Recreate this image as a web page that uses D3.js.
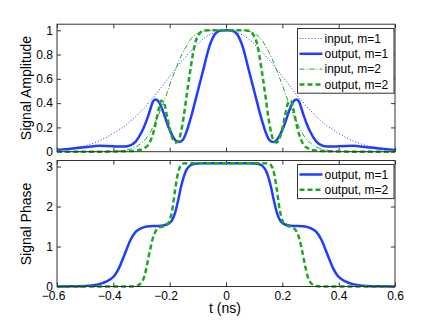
<!DOCTYPE html>
<meta charset="utf-8">
<style>
body { margin: 0; background: #fff; }
svg { display: block; font-family: "Liberation Sans", Arial, sans-serif; }
</style>
<svg width="436" height="323"></svg>
<script src="https://d3js.org/d3.v7.min.js"></script>
<script>
// time axis samples (ns), denser around the features
var tNs = [-0.6,-0.55,-0.5,-0.45,-0.4,-0.38,-0.36,-0.34,-0.32,-0.3,-0.29,-0.28,-0.27,-0.26,-0.25,-0.24,-0.23,-0.22,-0.21,-0.2,-0.19,-0.18,-0.17,-0.16,-0.15,-0.14,-0.13,-0.12,-0.11,-0.1,-0.09,-0.08,-0.06,-0.04,-0.02,0,
  0.02,0.04,0.06,0.08,0.09,0.1,0.11,0.12,0.13,0.14,0.15,0.16,0.17,0.18,0.19,0.2,0.21,0.22,0.23,0.24,0.25,0.26,0.27,0.28,0.29,0.3,0.32,0.34,0.36,0.38,0.4,0.45,0.5,0.55,0.6];

// amplitude series
var ampInputM1 = [0.01,0.03,0.05,0.09,0.15,0.18,0.21,0.25,0.29,0.34,0.36,0.39,0.42,0.44,0.47,0.50,0.53,0.56,0.59,0.62,0.65,0.68,0.71,0.74,0.76,0.79,0.82,0.84,0.86,0.89,0.91,0.93,0.96,0.98,0.99,1,
  0.99,0.98,0.96,0.93,0.91,0.89,0.86,0.84,0.82,0.79,0.76,0.74,0.71,0.68,0.65,0.62,0.59,0.56,0.53,0.50,0.47,0.44,0.42,0.39,0.36,0.34,0.29,0.25,0.21,0.18,0.15,0.09,0.05,0.03,0.01];
var ampOutputM1 = [0.015,0.025,0.037,0.048,0.045,0.042,0.042,0.052,0.085,0.16,0.21,0.27,0.34,0.41,0.43,0.415,0.37,0.31,0.24,0.18,0.13,0.095,0.08,0.085,0.11,0.165,0.24,0.32,0.41,0.5,0.59,0.68,0.86,0.965,0.998,1,
  0.998,0.965,0.86,0.68,0.59,0.5,0.41,0.32,0.24,0.165,0.11,0.085,0.08,0.095,0.13,0.18,0.24,0.31,0.37,0.415,0.43,0.41,0.34,0.27,0.21,0.16,0.085,0.052,0.042,0.042,0.045,0.048,0.037,0.025,0.015];
var ampInputM2 = [0,0,0,0.001,0.003,0.006,0.012,0.022,0.04,0.07,0.09,0.12,0.155,0.2,0.25,0.3,0.36,0.42,0.48,0.55,0.61,0.67,0.73,0.785,0.83,0.87,0.91,0.94,0.96,0.975,0.985,0.992,0.998,1,1,1,
  1,1,0.998,0.992,0.985,0.975,0.96,0.94,0.91,0.87,0.83,0.785,0.73,0.67,0.61,0.55,0.48,0.42,0.36,0.3,0.25,0.2,0.155,0.12,0.09,0.07,0.04,0.022,0.012,0.006,0.003,0.001,0,0,0];
var ampOutputM2 = [0,0,0,0,0.002,0.003,0.004,0.006,0.01,0.018,0.03,0.045,0.08,0.14,0.23,0.34,0.42,0.4,0.3,0.19,0.11,0.075,0.085,0.16,0.29,0.46,0.62,0.77,0.89,0.95,0.985,0.997,1,1,1,1,
  1,1,1,0.997,0.985,0.95,0.89,0.77,0.62,0.46,0.29,0.16,0.085,0.075,0.11,0.19,0.3,0.4,0.42,0.34,0.23,0.14,0.08,0.045,0.03,0.018,0.01,0.006,0.004,0.003,0.002,0,0,0,0];

// phase series
var phaseOutputM1 = [0,0.004,0.015,0.06,0.24,0.46,0.8,1.15,1.37,1.46,1.485,1.5,1.505,1.51,1.512,1.515,1.52,1.53,1.55,1.59,1.68,1.86,2.15,2.48,2.74,2.92,3.01,3.05,3.07,3.075,3.08,3.08,3.08,3.08,3.08,3.08,
  3.08,3.08,3.08,3.08,3.08,3.075,3.07,3.05,3.01,2.92,2.74,2.48,2.15,1.86,1.68,1.59,1.55,1.53,1.52,1.515,1.512,1.51,1.505,1.5,1.485,1.46,1.37,1.15,0.8,0.46,0.24,0.06,0.015,0.004,0];
var phaseOutputM2 = [0,0,0,0,0,0,0,0,0.01,0.1,0.25,0.55,0.9,1.2,1.38,1.46,1.49,1.51,1.55,1.65,1.95,2.45,2.85,3.03,3.075,3.08,3.08,3.08,3.08,3.08,3.08,3.08,3.08,3.08,3.08,3.08,
  3.08,3.08,3.08,3.08,3.08,3.08,3.08,3.08,3.08,3.08,3.075,3.03,2.85,2.45,1.95,1.65,1.55,1.51,1.49,1.46,1.38,1.2,0.9,0.55,0.25,0.1,0.01,0,0,0,0,0,0,0,0];

// ticks and labels
var xTicks = [-0.6,-0.4,-0.2,0,0.2,0.4,0.6];
var ampTicks = [0,0.2,0.4,0.6,0.8,1];
var phaseTicks = [0,1,2,3];
var ampLegend = ["input, m=1","output, m=1","input, m=2","output, m=2"];
var phaseLegend = ["output, m=1","output, m=2"];

var blue = "#1f3dff", green = "#1fa51f", frame = "#333";

var svg = d3.select("svg");

var x = d3.scaleLinear().domain([-0.6, 0.6]).range([57, 395]);
var yAmp = d3.scaleLinear().domain([0, 1.05]).range([151.7, 24.2]);
var yPh = d3.scaleLinear().domain([0, 3.15]).range([286.5, 160.5]);

var fmt = d3.format("~g");

// style for each line: colour, width, dash
var styles = {
  inM1:  {c: blue,  w: 1,   d: "1,2"},
  outM1: {c: blue,  w: 2.5, d: null},
  inM2:  {c: green, w: 1,   d: "5,2,1,2"},
  outM2: {c: green, w: 2.5, d: "5,3"}
};

function drawPanel(y, yTicks, series, legendNames, legendTop, xLabels) {
  var g = svg.append("g");
  var top = y.range()[1], bottom = y.range()[0];

  // ticks, all pointing inward (matlab style box)
  var xb = g.append("g").attr("transform", "translate(0," + bottom + ")")
    .call(d3.axisBottom(x).tickValues(xTicks).tickSize(-4).tickPadding(5)
      .tickFormat(xLabels ? fmt : ""));
  // minus sign pushes the negative labels a little to the left
  xb.selectAll(".tick text").attr("dx", function(d) { return d < 0 ? -4 : 0; });
  g.append("g").attr("transform", "translate(0," + top + ")")
    .call(d3.axisTop(x).tickValues(xTicks).tickSize(-4).tickFormat(""));
  g.append("g").attr("transform", "translate(57,0)")
    .call(d3.axisLeft(y).tickValues(yTicks).tickSize(-4).tickPadding(4).tickFormat(fmt));
  g.append("g").attr("transform", "translate(395,0)")
    .call(d3.axisRight(y).tickValues(yTicks).tickSize(-4).tickFormat(""));
  g.selectAll(".domain").remove();
  g.selectAll(".tick line").attr("stroke", frame);
  g.selectAll(".tick text").attr("font-size", 12).attr("fill", "#000")
    .attr("font-family", "Liberation Sans, Arial, sans-serif");

  // lines
  series.forEach(function(s) {
    var st = styles[s.key];
    var line = d3.line()
      .x(function(d, i) { return x(tNs[i]); })
      .y(function(d) { return y(d); })
      .curve(d3.curveMonotoneX);
    g.append("path")
      .attr("d", line(s.values))
      .attr("fill", "none")
      .attr("stroke", st.c)
      .attr("stroke-width", st.w)
      .attr("stroke-dasharray", st.d);
  });

  // box
  g.append("rect")
    .attr("x", 57).attr("y", top)
    .attr("width", 338).attr("height", bottom - top)
    .attr("fill", "none").attr("stroke", frame);

  // legend
  var lg = g.append("g");
  lg.append("rect")
    .attr("x", 297.5).attr("y", legendTop)
    .attr("width", 96.5).attr("height", legendNames.length * 15.3 + 3.5)
    .attr("fill", "#fff").attr("stroke", frame);
  series.forEach(function(s, i) {
    var st = styles[s.key];
    var cy = legendTop + 10 + i * 15.3;
    lg.append("line")
      .attr("x1", 299.5).attr("x2", 322.5).attr("y1", cy).attr("y2", cy)
      .attr("stroke", st.c).attr("stroke-width", st.w)
      .attr("stroke-dasharray", st.d);
    lg.append("text")
      .attr("x", 324.5).attr("y", cy + 4.2)
      .attr("font-size", 12)
      .text(legendNames[i]);
  });
}

drawPanel(yAmp, ampTicks, [
  {key: "inM1", values: ampInputM1},
  {key: "outM1", values: ampOutputM1},
  {key: "inM2", values: ampInputM2},
  {key: "outM2", values: ampOutputM2}
], ampLegend, 28.5, false);

drawPanel(yPh, phaseTicks, [
  {key: "outM1", values: phaseOutputM1},
  {key: "outM2", values: phaseOutputM2}
], phaseLegend, 164.5, true);

// axis titles
svg.append("text")
  .attr("transform", "translate(31,88) rotate(-90)")
  .attr("text-anchor", "middle").attr("font-size", 14)
  .text("Signal Amplitude");
svg.append("text")
  .attr("transform", "translate(31,224) rotate(-90)")
  .attr("text-anchor", "middle").attr("font-size", 14)
  .text("Signal Phase");
svg.append("text")
  .attr("x", 225).attr("y", 313)
  .attr("text-anchor", "middle").attr("font-size", 14)
  .text("t (ns)");
</script>
